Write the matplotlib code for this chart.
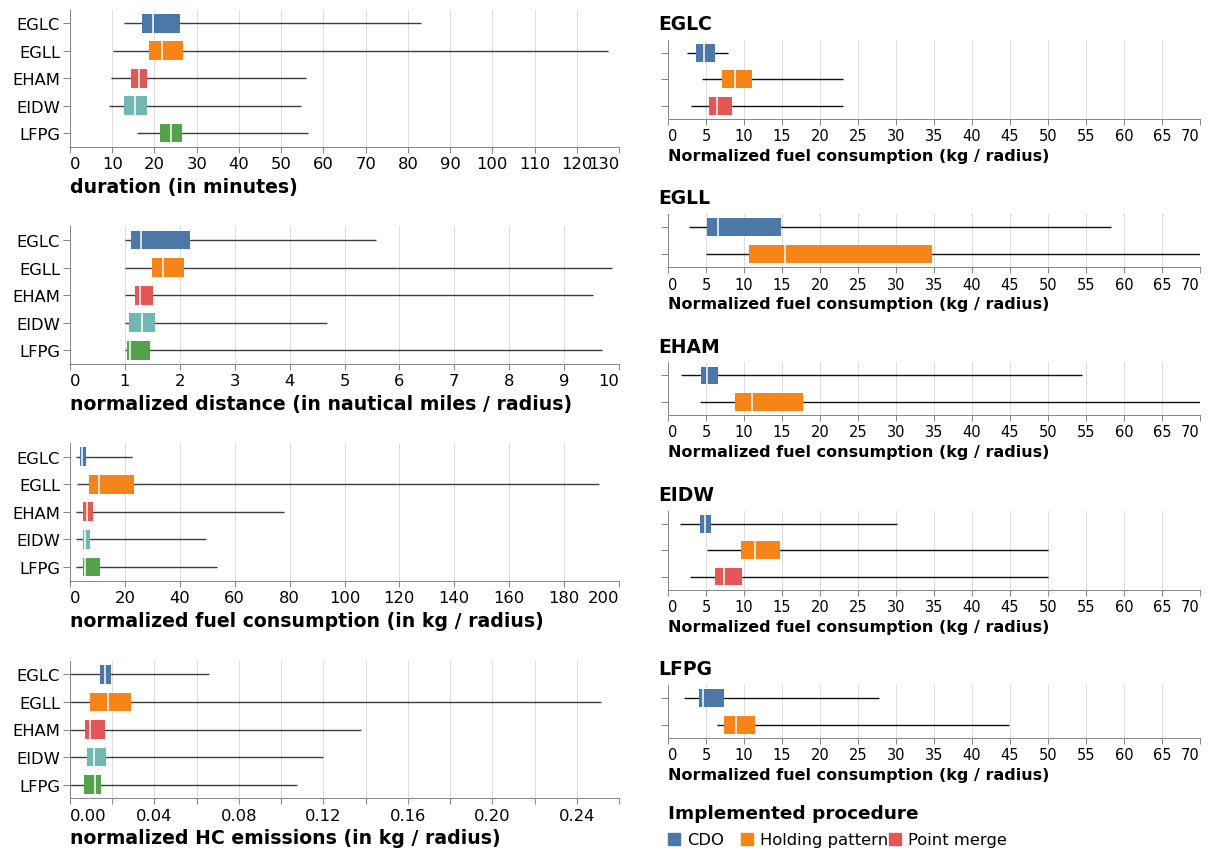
import numpy as np
import matplotlib
matplotlib.use("Agg")
import matplotlib.pyplot as plt
from matplotlib.patches import Rectangle

plt.rcParams["font.family"] = ["DejaVu Sans"]

# ---------------- data ----------------
airports = ["EGLC", "EGLL", "EHAM", "EIDW", "LFPG"]
airport_colors = ["#4c78a8", "#f58518", "#e45756", "#72b7b2", "#54a24b"]

procedures = ["CDO", "Holding pattern", "Point merge"]
procedure_colors = ["#4c78a8", "#f58518", "#e45756"]

# duration (minutes): whisker low, q1, median, q3, whisker high
duration_lo = [12.7, 10.3, 9.7, 9.3, 15.8]
duration_q1 = [17.0, 18.6, 14.4, 12.9, 21.3]
duration_med = [19.7, 21.8, 16.4, 15.3, 24.0]
duration_q3 = [26.0, 26.7, 18.3, 18.2, 26.6]
duration_hi = [83.0, 127.4, 55.9, 54.6, 56.3]

# normalized distance (nautical miles / radius)
distance_lo = [1.0, 1.0, 1.0, 1.0, 1.0]
distance_q1 = [1.12, 1.49, 1.18, 1.07, 1.03]
distance_med = [1.29, 1.70, 1.28, 1.32, 1.10]
distance_q3 = [2.18, 2.08, 1.51, 1.55, 1.45]
distance_hi = [5.57, 9.88, 9.52, 4.68, 9.69]

# normalized fuel consumption (kg / radius)
fuel_lo = [2.2, 2.7, 2.1, 2.1, 2.2]
fuel_q1 = [3.6, 7.0, 4.8, 4.6, 4.6]
fuel_med = [4.5, 10.4, 6.2, 5.4, 5.4]
fuel_q3 = [5.8, 23.2, 8.3, 7.4, 11.0]
fuel_hi = [22.6, 192.7, 78.0, 49.7, 53.7]

# normalized HC emissions (kg / radius)
hc_lo = [0.0, 0.0, 0.0, 0.0, 0.0]
hc_q1 = [0.0141, 0.0093, 0.0073, 0.0079, 0.0064]
hc_med = [0.0166, 0.0180, 0.0093, 0.0112, 0.0118]
hc_q3 = [0.0195, 0.0290, 0.0168, 0.0170, 0.0145]
hc_hi = [0.0657, 0.2513, 0.1380, 0.1200, 0.1073]

# fuel consumption per airport and procedure: [low, q1, median, q3, high]
fuel_EGLC = {"CDO": [2.5, 3.7, 4.7, 6.2, 7.9],
             "Holding pattern": [4.5, 7.1, 8.8, 11.1, 23.0],
             "Point merge": [3.0, 5.35, 6.4, 8.4, 23.0]}
fuel_EGLL = {"CDO": [2.7, 5.1, 6.6, 14.9, 58.3],
             "Holding pattern": [5.0, 10.7, 15.4, 34.8, 192.7]}
fuel_EHAM = {"CDO": [1.7, 4.3, 5.1, 6.6, 54.5],
             "Holding pattern": [4.2, 8.8, 11.0, 17.7, 78.0]}
fuel_EIDW = {"CDO": [1.6, 4.2, 4.9, 5.7, 30.1],
             "Holding pattern": [5.1, 9.6, 11.4, 14.8, 50.0],
             "Point merge": [2.9, 6.2, 7.4, 9.7, 50.0]}
fuel_LFPG = {"CDO": [2.1, 4.1, 4.6, 7.4, 27.8],
             "Holding pattern": [6.4, 7.4, 9.0, 11.5, 44.9]}

# ---------------- styling ----------------
W, H = 1213, 854
DPI = 100
PX = 72.0 / DPI  # points per pixel
GRID_C = "#dddddd"
DOMAIN_C = "#888888"
BOX_FRAC = 0.68

fig = plt.figure(figsize=(W / DPI, H / DPI), dpi=DPI)
fig.patch.set_facecolor("white")


def add_axes_px(x0, x1, top, bottom):
    return fig.add_axes([x0 / W, 1 - bottom / H, (x1 - x0) / W, (bottom - top) / H])


def style_axes(ax, n, xmax, step, tick_fs, label_every=1, fmt="{:g}", ylabels=None):
    ax.set_xlim(0, xmax)
    ax.set_ylim(n - 0.5, -0.5)
    ticks = np.arange(0, xmax + step / 2, step)
    ax.set_xticks(ticks)
    labels = [fmt.format(t) if i % label_every == 0 else "" for i, t in enumerate(ticks)]
    ax.set_xticklabels(labels)
    ax.get_xticklabels()[0].set_ha("left")
    if labels[-1]:
        ax.get_xticklabels()[-1].set_ha("right")
    ax.set_yticks(range(n))
    ax.set_yticklabels(ylabels if ylabels is not None else [""] * n)
    for s in ("top", "right"):
        ax.spines[s].set_visible(False)
    for s in ("left", "bottom"):
        ax.spines[s].set_color(DOMAIN_C)
        ax.spines[s].set_linewidth(1.0 * PX)
    ax.tick_params(axis="x", length=6.3 * PX, width=1.0 * PX, color=DOMAIN_C,
                   labelsize=tick_fs, pad=2.2)
    ax.tick_params(axis="y", length=7 * PX, width=1.0 * PX, color=DOMAIN_C,
                   labelsize=tick_fs, pad=2.0)
    ax.grid(axis="x", color=GRID_C, lw=1.0 * PX)
    ax.set_axisbelow(True)


def draw_boxes(ax, lo, q1, med, q3, hi, colors, whisker_c):
    pos = np.arange(len(lo))
    lo, q1, med, q3, hi = map(np.asarray, (lo, q1, med, q3, hi))
    ax.hlines(pos, lo, hi, color=whisker_c, lw=1.0, zorder=2)
    ax.barh(pos, q3 - q1, left=q1, height=BOX_FRAC, color=colors, zorder=3)
    ax.vlines(med, pos - BOX_FRAC / 2, pos + BOX_FRAC / 2, color="white",
              lw=1.1, zorder=4)


def xlabel_left(ax, text, offset_px, fs):
    ax.annotate(text, xy=(0, 0), xycoords="axes fraction",
                xytext=(0, -offset_px * PX), textcoords="offset points",
                ha="left", va="center", fontsize=fs, fontweight="bold")


# ---------------- left column ----------------
LX0, LX1 = 70, 619
LEFT_TICK_FS = 11.8
LEFT_LABEL_FS = 13.6
left_specs = [
    ((10.7, 147.7), (duration_lo, duration_q1, duration_med, duration_q3, duration_hi),
     130, 10, 1, "{:g}", "duration (in minutes)"),
    ((227.3, 365.0), (distance_lo, distance_q1, distance_med, distance_q3, distance_hi),
     10, 1, 1, "{:g}", "normalized distance (in nautical miles / radius)"),
    ((444.0, 581.7), (fuel_lo, fuel_q1, fuel_med, fuel_q3, fuel_hi),
     200, 20, 1, "{:g}", "normalized fuel consumption (in kg / radius)"),
    ((661.7, 799.3), (hc_lo, hc_q1, hc_med, hc_q3, hc_hi),
     0.26, 0.02, 2, "{:.2f}", "normalized HC emissions (in kg / radius)"),
]

for (top, bottom), stats, xmax, step, every, fmt, label in left_specs:
    ax = add_axes_px(LX0, LX1, top, bottom)
    style_axes(ax, len(airports), xmax, step, LEFT_TICK_FS, every, fmt, ylabels=airports)
    draw_boxes(ax, *stats, airport_colors, "#3c3c3c")
    xlabel_left(ax, label, 39.5, LEFT_LABEL_FS)

# ---------------- right column ----------------
RX0, RX1 = 668, 1200
RIGHT_TICK_FS = 10.5
RIGHT_LABEL_FS = 11.5
RIGHT_TITLE_FS = 13.5
right_specs = [
    ("EGLC", fuel_EGLC, (40.7, 120.0)),
    ("EGLL", fuel_EGLL, (215.0, 268.3)),
    ("EHAM", fuel_EHAM, (363.3, 416.0)),
    ("EIDW", fuel_EIDW, (511.7, 590.7)),
    ("LFPG", fuel_LFPG, (686.0, 739.0)),
]

for name, table, (top, bottom) in right_specs:
    ax = add_axes_px(RX0, RX1, top, bottom)
    procs = list(table.keys())
    stats = np.array([table[p] for p in procs]).T
    cols = [procedure_colors[procedures.index(p)] for p in procs]
    style_axes(ax, len(procs), 70, 5, RIGHT_TICK_FS)
    draw_boxes(ax, *stats, cols, "#111111")
    xlabel_left(ax, "Normalized fuel consumption (kg / radius)", 36.7, RIGHT_LABEL_FS)
    ax.annotate(name, xy=(0, 1), xycoords="axes fraction",
                xytext=(-10 * PX, 16.2 * PX), textcoords="offset points",
                ha="left", va="center", fontsize=RIGHT_TITLE_FS, fontweight="bold")

# ---------------- legend ----------------
fig.text(668 / W, 1 - 814.5 / H, "Implemented procedure", ha="left", va="center",
         fontsize=13.3, fontweight="bold")
legend_x = [668, 741, 889]
for x, name, c in zip(legend_x, procedures, procedure_colors):
    fig.patches.append(Rectangle((x / W, 1 - 846 / H), 12 / W, 12 / H,
                                 transform=fig.transFigure, color=c))
    fig.text((x + 19) / W, 1 - 840.5 / H, name, ha="left", va="center",
             fontsize=11.8)

fig.savefig("out.png", dpi=DPI, facecolor="white")
